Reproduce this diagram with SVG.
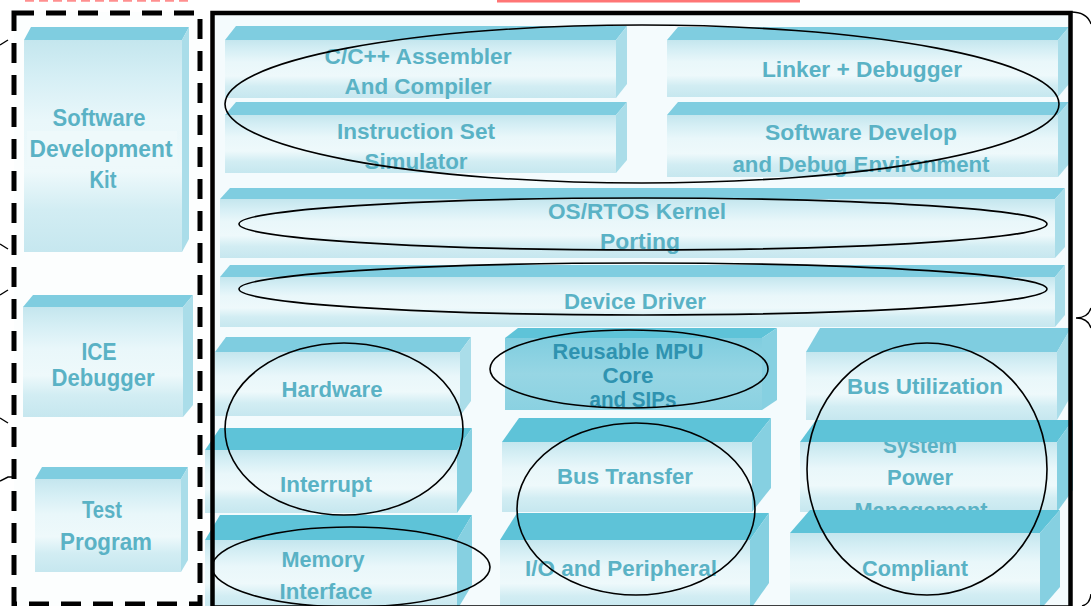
<svg xmlns="http://www.w3.org/2000/svg" width="1091" height="606" viewBox="0 0 1091 606">
  <style>
    .bev { fill: #7fcde0; }
    .bev.dk { fill: #5ec3d8; }
    .side { fill: #aadde9; }
    .side.dk { fill: #86d0e1; }
    .face { fill: url(#faceGrad); }
    .face.dk { fill: url(#faceDark); }
    .t { font-family: "Liberation Sans", Arial, sans-serif; font-weight: bold; font-size: 22px; fill: #5ab2c5; text-anchor: middle; }
    .t.sm { font-size: 23px; }
    .t.deep { fill: #2f93b0; }
    .ring { fill: none; stroke: #000; stroke-width: 1.6; }
    .mark { fill: none; stroke: #000; stroke-width: 1.4; }
  </style>
  <defs>
    <linearGradient id="faceGrad" x1="0" y1="0" x2="0" y2="1">
      <stop offset="0" stop-color="#c4e6ee"/>
      <stop offset="0.18" stop-color="#d6eff5"/>
      <stop offset="0.38" stop-color="#e9f7fa"/>
      <stop offset="0.62" stop-color="#eef9fb"/>
      <stop offset="0.8" stop-color="#d2edf3"/>
      <stop offset="1" stop-color="#c6e7ef"/>
    </linearGradient>
    <linearGradient id="faceDark" x1="0" y1="0" x2="0" y2="1">
      <stop offset="0" stop-color="#7fcddf"/>
      <stop offset="0.5" stop-color="#97d6e4"/>
      <stop offset="1" stop-color="#8ad1e1"/>
    </linearGradient>
  </defs>

  <!-- page background -->
  <rect x="0" y="0" width="1091" height="606" fill="#ffffff"/>
  <rect x="14" y="12" width="186" height="594" fill="#fcfefe"/>
  <rect x="212" y="12" width="859" height="596" fill="#f4fbfd"/>

  <!-- header rules -->
  <line x1="25" y1="0.8" x2="188" y2="0.8" stroke="#ff8f8f" stroke-width="2" stroke-dasharray="9 5"/>
  <rect x="497" y="0" width="303" height="2.5" fill="#ff7575"/>

  <!-- tool boxes -->
  <g id="sdk">
    <rect class="face" x="24" y="40" width="158" height="212"/>
    <rect x="27" y="131" width="150" height="35" fill="#eef9fb"/>
    <polygon class="bev" points="24,40 31,27 189,27 182,40"/>
    <polygon class="side" points="182,40 189,27 189,239 182,252"/>
    <text class="t sm" x="99" y="126" textLength="93" lengthAdjust="spacingAndGlyphs">Software</text>
    <text class="t sm" x="101" y="157" textLength="143" lengthAdjust="spacingAndGlyphs">Development</text>
    <text class="t sm" x="103" y="188" textLength="27" lengthAdjust="spacingAndGlyphs">Kit</text>
  </g>
  <g id="ice">
    <rect class="face" x="23" y="307" width="160" height="110"/>
    <polygon class="bev" points="23,307 33,295 193,295 183,307"/>
    <polygon class="side" points="183,307 193,295 193,405 183,417"/>
    <text class="t sm" x="99" y="360" textLength="35" lengthAdjust="spacingAndGlyphs">ICE</text>
    <text class="t sm" x="103" y="386" textLength="103" lengthAdjust="spacingAndGlyphs">Debugger</text>
  </g>
  <g id="test">
    <rect class="face" x="35" y="479" width="146" height="93"/>
    <polygon class="bev" points="35,479 42,467 188,467 181,479"/>
    <polygon class="side" points="181,479 188,467 188,560 181,572"/>
    <text class="t sm" x="102" y="518" textLength="40" lengthAdjust="spacingAndGlyphs">Test</text>
    <text class="t sm" x="106" y="550" textLength="92" lengthAdjust="spacingAndGlyphs">Program</text>
  </g>

  <!-- software layer -->
  <g id="compiler">
    <rect class="face" x="225" y="40" width="391" height="58"/>
    <polygon class="bev" points="225,40 236,26 627,26 616,40"/>
    <polygon class="side" points="616,40 627,26 627,84 616,98"/>
    <text class="t" x="418" y="64" textLength="187" lengthAdjust="spacingAndGlyphs">C/C++ Assembler</text>
    <text class="t" x="418" y="94" textLength="147" lengthAdjust="spacingAndGlyphs">And Compiler</text>
  </g>
  <g id="iss">
    <rect class="face" x="225" y="115" width="391" height="58"/>
    <polygon class="bev" points="225,115 236,102 627,102 616,115"/>
    <polygon class="side" points="616,115 627,102 627,160 616,173"/>
    <text class="t" x="416" y="139" textLength="158" lengthAdjust="spacingAndGlyphs">Instruction Set</text>
    <text class="t" x="416" y="169" textLength="103" lengthAdjust="spacingAndGlyphs">Simulator</text>
  </g>
  <g id="linker">
    <rect class="face" x="667" y="40" width="391" height="57"/>
    <polygon class="bev" points="667,40 678,27 1069,27 1058,40"/>
    <polygon class="side" points="1058,40 1069,27 1069,84 1058,97"/>
    <text class="t" x="862" y="77" textLength="200" lengthAdjust="spacingAndGlyphs">Linker + Debugger</text>
  </g>
  <g id="ide">
    <rect class="face" x="667" y="115" width="391" height="62"/>
    <polygon class="bev" points="667,115 678,102 1069,102 1058,115"/>
    <polygon class="side" points="1058,115 1069,102 1069,164 1058,177"/>
    <text class="t" x="861" y="140" textLength="192" lengthAdjust="spacingAndGlyphs">Software Develop</text>
    <text class="t" x="861" y="172" textLength="257" lengthAdjust="spacingAndGlyphs">and Debug Environment</text>
  </g>
  <g id="os">
    <rect class="face" x="220" y="199" width="835" height="59"/>
    <polygon class="bev" points="220,199 230,188 1065,188 1055,199"/>
    <polygon class="side" points="1055,199 1065,188 1065,247 1055,258"/>
    <text class="t" x="637" y="219" textLength="178" lengthAdjust="spacingAndGlyphs">OS/RTOS Kernel</text>
    <text class="t" x="640" y="249" textLength="80" lengthAdjust="spacingAndGlyphs">Porting</text>
  </g>
  <g id="driver">
    <rect class="face" x="220" y="277" width="835" height="50"/>
    <polygon class="bev" points="220,277 230,265 1065,265 1055,277"/>
    <polygon class="side" points="1055,277 1065,265 1065,315 1055,327"/>
    <text class="t" x="635" y="309" textLength="142" lengthAdjust="spacingAndGlyphs">Device Driver</text>
  </g>

  <!-- hardware layer -->
  <g id="hardware">
    <rect class="face" x="215" y="352" width="245" height="64"/>
    <polygon class="bev" points="215,352 226,337 471,337 460,352"/>
    <polygon class="side" points="460,352 471,337 471,401 460,416"/>
    <text class="t" x="332" y="397" textLength="101" lengthAdjust="spacingAndGlyphs">Hardware</text>
  </g>
  <g id="interrupt">
    <rect class="face" x="205" y="450" width="252" height="63"/>
    <polygon class="bev dk" points="205,450 220,428 472,428 457,450"/>
    <polygon class="side dk" points="457,450 472,428 472,491 457,513"/>
    <text class="t" x="326" y="492" textLength="92" lengthAdjust="spacingAndGlyphs">Interrupt</text>
  </g>
  <g id="memory">
    <rect class="face" x="205" y="540" width="252" height="70"/>
    <polygon class="bev dk" points="205,540 220,515 472,515 457,540"/>
    <polygon class="side dk" points="457,540 472,515 472,585 457,610"/>
    <text class="t" x="323" y="567" textLength="83" lengthAdjust="spacingAndGlyphs">Memory</text>
    <text class="t" x="326" y="599" textLength="93" lengthAdjust="spacingAndGlyphs">Interface</text>
  </g>
  <g id="mpu">
    <rect class="face dk" x="505" y="338" width="257" height="72"/>
    <polygon class="bev dk" points="505,338 518,328 777,328 762,338"/>
    <polygon class="side dk" points="762,338 777,328 777,400 762,410"/>
    <text class="t deep" x="628" y="359" textLength="151" lengthAdjust="spacingAndGlyphs">Reusable MPU</text>
    <text class="t deep" x="628" y="383" textLength="51" lengthAdjust="spacingAndGlyphs">Core</text>
    <text class="t deep" x="633" y="407" textLength="87" lengthAdjust="spacingAndGlyphs">and SIPs</text>
  </g>
  <g id="bus-transfer">
    <rect class="face" x="502" y="442" width="250" height="70"/>
    <polygon class="bev dk" points="502,442 519,418 771,418 752,442"/>
    <polygon class="side dk" points="752,442 771,418 771,488 752,512"/>
    <text class="t" x="625" y="484" textLength="136" lengthAdjust="spacingAndGlyphs">Bus Transfer</text>
  </g>
  <g id="io">
    <rect class="face" x="500" y="540" width="250" height="70"/>
    <polygon class="bev dk" points="500,540 517,513 769,513 750,540"/>
    <polygon class="side dk" points="750,540 769,513 769,583 750,610"/>
    <text class="t" x="621" y="576" textLength="192" lengthAdjust="spacingAndGlyphs">I/O and Peripheral</text>
  </g>
  <g id="bus-util">
    <rect class="face" x="806" y="352" width="251" height="68"/>
    <polygon class="bev" points="806,352 820,328 1071,328 1057,352"/>
    <polygon class="side" points="1057,352 1071,328 1071,396 1057,420"/>
    <text class="t" x="925" y="394" textLength="156" lengthAdjust="spacingAndGlyphs">Bus Utilization</text>
  </g>
  <g id="power">
    <rect class="face" x="800" y="442" width="257" height="70"/>
    <!-- label sits partly under the slab edges -->
    <text class="t" x="920" y="453" textLength="74" lengthAdjust="spacingAndGlyphs">System</text>
    <text class="t" x="920" y="485" textLength="66" lengthAdjust="spacingAndGlyphs">Power</text>
    <text class="t" x="921" y="518" textLength="133" lengthAdjust="spacingAndGlyphs">Management</text>
    <polygon class="bev dk" points="800,442 816,420 1073,420 1057,442"/>
    <polygon class="side dk" points="1057,442 1073,420 1073,490 1057,512"/>
  </g>
  <g id="compliant">
    <rect class="face" x="790" y="533" width="250" height="77"/>
    <polygon class="bev dk" points="790,533 810,510 1060,510 1040,533"/>
    <polygon class="side dk" points="1040,533 1060,510 1060,587 1040,610"/>
    <text class="t" x="915" y="576" textLength="106" lengthAdjust="spacingAndGlyphs">Compliant</text>
  </g>

  <!-- grouping rings -->
  <g id="rings">
    <ellipse class="ring" cx="642" cy="104" rx="417" ry="79"/>
    <ellipse class="ring" cx="643" cy="224" rx="404" ry="26"/>
    <ellipse class="ring" cx="643" cy="289" rx="404" ry="26"/>
    <ellipse class="ring" cx="344" cy="429" rx="119" ry="86"/>
    <ellipse class="ring" cx="351" cy="567" rx="139" ry="40"/>
    <ellipse class="ring" cx="629" cy="369" rx="139" ry="39"/>
    <ellipse class="ring" cx="636" cy="509" rx="119" ry="86"/>
    <ellipse class="ring" cx="927" cy="469" rx="120" ry="126"/>
  </g>

  <!-- panel frames -->
  <g id="frames">
    <rect x="14" y="13" width="186" height="591" fill="none" stroke="#000" stroke-width="5" stroke-dasharray="20 12"/>
    <rect x="212.5" y="13" width="858" height="594.5" fill="none" stroke="#000" stroke-width="4.5"/>
  </g>

  <!-- brace fragments at the edges -->
  <g id="connectors">
    <path class="mark" d="M1071,12 Q1087,12 1091,24"/>
    <path class="mark" d="M1091,308 Q1088,318 1076,318 Q1088,318 1091,328"/>
    <path class="mark" d="M1091,594 Q1090,604 1082,606"/>
    <path class="mark" d="M0,45 L8,40"/>
    <path class="mark" d="M0,244 L8,249"/>
    <path class="mark" d="M0,295 L8,290"/>
    <path class="mark" d="M0,418 L8,423"/>
    <path class="mark" d="M0,481 L8,477 L13,477"/>
  </g>
</svg>
